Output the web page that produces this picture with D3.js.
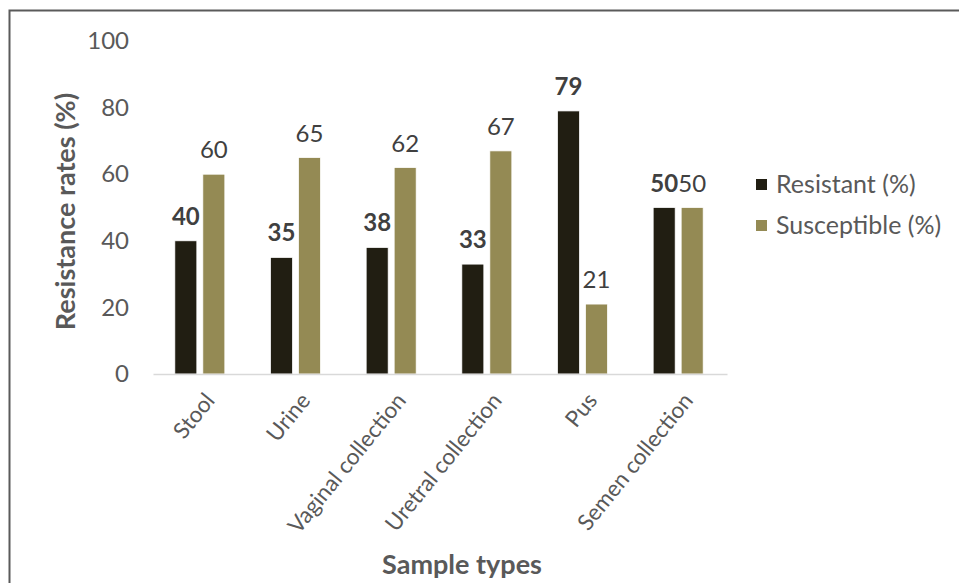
<!DOCTYPE html>
<html>
<head>
<meta charset="utf-8">
<script src="https://cdn.jsdelivr.net/npm/d3@7"></script>
<style>
  html, body { margin: 0; padding: 0; background: #fff; }
  svg { display: block; font-family: Lato, "Open Sans", sans-serif; }
</style>
</head>
<body>
<svg id="chart" width="959" height="583"></svg>
<script>
// Resistance / susceptibility by sample type
const categories = ["Stool", "Urine", "Vaginal collection", "Uretral collection", "Pus", "Semen collection"];
const resistant = [40, 35, 38, 33, 79, 50];
const susceptible = [60, 65, 62, 67, 21, 50];
const seriesNames = ["Resistant (%)", "Susceptible (%)"];
const yTicks = [0, 20, 40, 60, 80, 100];

const colors = ["#211e12", "#948a54"];

const svg = d3.select("#chart");
const W = 959, H = 583;

// outer frame
svg.append("rect")
  .attr("x", 9.5).attr("y", 10.5)
  .attr("width", W + 20).attr("height", H + 20)
  .attr("fill", "none").attr("stroke", "#5a5a5a").attr("stroke-width", 2);

const plot = { left: 153, right: 727, top: 41, bottom: 374 };

const x0 = d3.scaleBand().domain(categories)
  .range([plot.left, plot.right]).paddingInner(0).paddingOuter(0);
const barW = 22, gap = 6;
const x1 = d3.scaleBand().domain([0, 1])
  .range([x0.bandwidth() / 2 - barW - gap / 2 - 1, x0.bandwidth() / 2 + barW + gap / 2 - 1])
  .paddingInner(gap / (barW + gap)).paddingOuter(0);
const y = d3.scaleLinear().domain([0, 100]).range([plot.bottom, plot.top]);

// y axis tick labels
const yAxis = d3.axisLeft(y).tickValues(yTicks).tickSize(0).tickPadding(0);
const gy = svg.append("g").attr("transform", `translate(${plot.left - 24},0)`).call(yAxis);
gy.select(".domain").remove();
gy.selectAll("text").attr("fill", "#595959").style("font-size", "24px")
  .style("font-family", "Lato, 'Open Sans', sans-serif");

// bars
const groups = svg.append("g").selectAll("g").data(categories).join("g")
  .attr("transform", d => `translate(${x0(d)},0)`);

const rows = categories.map((c, i) => [resistant[i], susceptible[i]]);

groups.selectAll("rect")
  .data((d, i) => rows[i].map((v, s) => ({ v, s })))
  .join("rect")
  .attr("x", d => x1(d.s))
  .attr("width", x1.bandwidth())
  .attr("y", d => y(d.v))
  .attr("height", d => y(0) - y(d.v))
  .attr("fill", d => colors[d.s])
  .attr("stroke", "#ffffff").attr("stroke-width", 0.75);

// value labels
groups.selectAll("text.val")
  .data((d, i) => rows[i].map((v, s) => ({ v, s })))
  .join("text").attr("class", "val")
  .attr("x", d => x1(d.s) + x1.bandwidth() / 2)
  .attr("y", d => y(d.v) - 16)
  .attr("text-anchor", "middle")
  .attr("fill", "#404040")
  .style("font-size", "24px")
  .style("font-weight", d => d.s === 0 ? "bold" : "normal")
  .text(d => d.v);

// x axis
const xAxis = d3.axisBottom(x0).tickSize(0).tickPadding(0);
const gx = svg.append("g").attr("transform", `translate(0,${plot.bottom})`).call(xAxis);
gx.select(".domain").attr("stroke", "#d9d9d9").attr("stroke-width", 1.5);
gx.selectAll("text")
  .attr("fill", "#595959").style("font-size", "22.5px")
  .style("font-family", "Lato, 'Open Sans', sans-serif")
  .attr("text-anchor", "end")
  .attr("dy", null)
  .attr("transform", "translate(15,27) rotate(-51)");

// axis titles
svg.append("text")
  .attr("transform", `translate(75,${(plot.top + plot.bottom) / 2 + 4}) rotate(-90)`)
  .attr("text-anchor", "middle")
  .attr("fill", "#595959")
  .style("font-size", "27px").style("font-weight", "bold")
  .text("Resistance rates (%)");

svg.append("text")
  .attr("x", 462).attr("y", 574)
  .attr("text-anchor", "middle")
  .attr("fill", "#595959")
  .style("font-size", "27px").style("font-weight", "bold")
  .text("Sample types");

// legend
const legend = svg.append("g").selectAll("g").data(seriesNames).join("g")
  .attr("transform", (d, i) => `translate(756,${179 + i * 41})`);
legend.append("rect").attr("width", 11).attr("height", 11)
  .attr("fill", (d, i) => colors[i]);
legend.append("text").attr("x", 20).attr("y", 14)
  .attr("fill", "#595959").style("font-size", "25px")
  .text(d => d);
</script>
</body>
</html>
